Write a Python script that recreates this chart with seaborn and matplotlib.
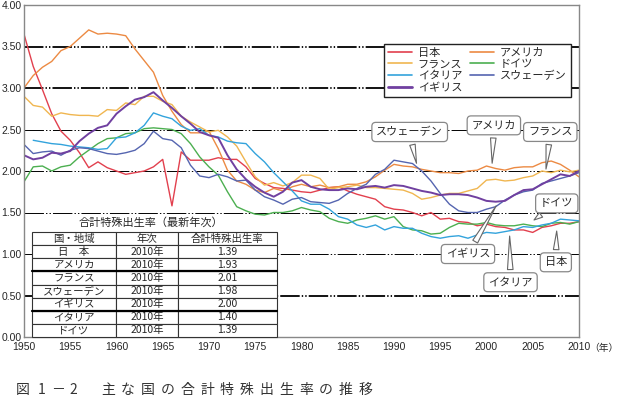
import numpy as np
import pandas as pd
import matplotlib.pyplot as plt
import seaborn as sns
from matplotlib.lines import Line2D

years = list(range(1950, 2011))

japan = [3.65, 3.26, 2.98, 2.69, 2.48, 2.37,
         2.22, 2.04, 2.11, 2.04, 2.00,
         1.96, 1.98, 2.00, 2.05, 2.14,
         1.58, 2.23, 2.13, 2.13, 2.13,
         2.16, 2.14, 2.14, 2.05, 1.91,
         1.85, 1.80, 1.79, 1.77, 1.75,
         1.74, 1.77, 1.80, 1.81, 1.76,
         1.72, 1.69, 1.66, 1.57, 1.54,
         1.53, 1.50, 1.46, 1.50, 1.42,
         1.43, 1.39, 1.38, 1.34, 1.36,
         1.33, 1.32, 1.29, 1.29, 1.26,
         1.32, 1.34, 1.37, 1.37, 1.39]
usa = [3.00, 3.15, 3.25, 3.32, 3.45, 3.50,
       3.60, 3.70, 3.65, 3.66, 3.65,
       3.63, 3.47, 3.33, 3.19, 2.91,
       2.72, 2.56, 2.46, 2.46, 2.48,
       2.27, 2.01, 1.88, 1.84, 1.77,
       1.74, 1.79, 1.76, 1.81, 1.84,
       1.81, 1.83, 1.80, 1.81, 1.84,
       1.84, 1.87, 1.93, 2.01, 2.08,
       2.06, 2.05, 2.02, 2.00, 1.98,
       1.98, 1.97, 2.00, 2.01, 2.06,
       2.03, 2.01, 2.04, 2.05, 2.05,
       2.10, 2.12, 2.08, 2.01, 1.93]
france = [2.90, 2.79, 2.77, 2.66, 2.70, 2.68,
          2.67, 2.67, 2.66, 2.74, 2.73,
          2.82, 2.80, 2.90, 2.90, 2.84,
          2.80, 2.66, 2.59, 2.53, 2.47,
          2.49, 2.41, 2.30, 2.11, 1.93,
          1.83, 1.86, 1.82, 1.86, 1.95,
          1.95, 1.91, 1.78, 1.80, 1.81,
          1.83, 1.80, 1.80, 1.79, 1.78,
          1.77, 1.73, 1.66, 1.68, 1.71,
          1.73, 1.73, 1.76, 1.79, 1.89,
          1.90, 1.88, 1.89, 1.92, 1.94,
          2.00, 1.98, 2.01, 1.99, 2.01]
germany = [1.87, 2.05, 2.06, 2.00, 2.05, 2.07,
           2.17, 2.25, 2.33, 2.39, 2.40,
           2.45, 2.46, 2.51, 2.52, 2.51,
           2.50, 2.45, 2.33, 2.17, 2.05,
           1.95, 1.75, 1.57, 1.52, 1.48,
           1.47, 1.50, 1.50, 1.52, 1.56,
           1.53, 1.51, 1.43, 1.39, 1.37,
           1.41, 1.43, 1.46, 1.42, 1.45,
           1.33, 1.29, 1.28, 1.24, 1.25,
           1.32, 1.37, 1.36, 1.36, 1.38,
           1.35, 1.34, 1.34, 1.36, 1.34,
           1.33, 1.37, 1.38, 1.36, 1.39]
italy = [np.nan, 2.37, 2.35, 2.33, 2.32, 2.30,
         2.29, 2.28, 2.26, 2.27, 2.40,
         2.41, 2.46, 2.55, 2.70, 2.66,
         2.63, 2.54, 2.49, 2.51, 2.43,
         2.41, 2.36, 2.34, 2.33, 2.21,
         2.11, 1.98, 1.87, 1.76, 1.64,
         1.60, 1.60, 1.54, 1.45, 1.42,
         1.35, 1.32, 1.35, 1.29, 1.33,
         1.31, 1.31, 1.25, 1.21, 1.19,
         1.21, 1.22, 1.19, 1.23, 1.26,
         1.25, 1.27, 1.29, 1.33, 1.32,
         1.35, 1.37, 1.42, 1.41, 1.40]
sweden = [2.32, 2.21, 2.23, 2.24, 2.19, 2.25,
          2.28, 2.27, 2.24, 2.21, 2.20,
          2.22, 2.25, 2.33, 2.48, 2.39,
          2.37, 2.28, 2.07, 1.94, 1.92,
          1.96, 1.93, 1.88, 1.89, 1.77,
          1.69, 1.65, 1.60, 1.66, 1.68,
          1.63, 1.62, 1.61, 1.65, 1.73,
          1.79, 1.84, 1.96, 2.02, 2.13,
          2.11, 2.09, 2.00, 1.88, 1.73,
          1.60, 1.52, 1.50, 1.50, 1.54,
          1.57, 1.65, 1.71, 1.75, 1.77,
          1.85, 1.88, 1.91, 1.94, 1.98]
uk = [2.19, 2.14, 2.16, 2.22, 2.21, 2.24,
      2.36, 2.45, 2.52, 2.55, 2.69,
      2.78, 2.86, 2.89, 2.95, 2.85,
      2.76, 2.66, 2.57, 2.47, 2.43,
      2.40, 2.19, 2.02, 1.90, 1.81,
      1.74, 1.69, 1.75, 1.86, 1.89,
      1.81, 1.78, 1.77, 1.77, 1.79,
      1.78, 1.81, 1.82, 1.80, 1.83,
      1.82, 1.79, 1.76, 1.74, 1.71,
      1.72, 1.72, 1.71, 1.68, 1.64,
      1.63, 1.64, 1.71, 1.77, 1.78,
      1.84, 1.90, 1.96, 1.94, 2.00]

countries = ["日本", "アメリカ", "フランス", "ドイツ", "イタリア", "スウェーデン", "イギリス"]
colors = ["#e2404e", "#ec8a43", "#f0b650", "#4caf50", "#33a3dc", "#5565b0", "#7040a0"]

# table (latest year)
table_countries = ["日　本", "アメリカ", "フランス", "スウェーデン", "イギリス", "イタリア", "ドイツ"]
table_years = ["2010年"] * 7
table_rates = [1.39, 1.93, 2.01, 1.98, 2.00, 1.40, 1.39]

# callouts
callout_labels = ["スウェーデン", "アメリカ", "フランス", "ドイツ", "イギリス", "イタリア", "日本"]
callout_xy = [(1992.5, 2.06), (2000.6, 2.06), (2006.4, 1.99), (2004.9, 1.39),
              (2001.2, 1.61), (2002.5, 1.25), (2007.6, 1.31)]
callout_text = [(1991.7, 2.47), (2000.8, 2.55), (2006.9, 2.47), (2007.6, 1.61),
                (1998.0, 1.00), (2002.6, 0.66), (2007.5, 0.90)]

df = pd.DataFrame({
    "year": years * 7,
    "rate": japan + usa + france + germany + italy + sweden + uk,
    "country": np.repeat(countries, len(years)),
}).dropna()

sns.set_style("white")
plt.rcParams["font.family"] = ["Noto Sans CJK JP", "DejaVu Sans"]
plt.rcParams["lines.scale_dashes"] = False

fig = plt.figure(figsize=(6.21, 4.0), dpi=100)
ax = fig.add_axes([0.0386, 0.1575, 0.8937, 0.83])

sns.lineplot(data=df, x="year", y="rate", hue="country", hue_order=countries,
             palette=colors, linewidth=1.0, legend=False, ax=ax, zorder=2)
ax.get_lines()[6].set_linewidth(1.4)

for v in np.arange(0.5, 3.51, 0.5):
    thick = v in (0.5, 3.0, 3.5)
    ax.axhline(v, color="black", lw=1.3 if thick else 0.7,
               dashes=(14, 1.5, 1, 1.5, 1, 1.5), zorder=1)

ax.set_xlim(1950, 2010)
ax.set_ylim(0, 4)
ax.set_xticks(range(1950, 2011, 5))
ax.set_yticks(np.arange(0, 4.01, 0.5))
ax.set_yticklabels([f"{v:.2f}" for v in np.arange(0, 4.01, 0.5)])
for lab in ax.get_xticklabels() + ax.get_yticklabels():
    lab.set_family(["Liberation Sans", "DejaVu Sans"])
ax.tick_params(axis="x", direction="in", length=3, labelsize=7.5, pad=3.5, color="#555")
ax.tick_params(axis="y", length=0, labelsize=7.5, pad=1.5)
ax.set_xlabel("")
ax.set_ylabel("")
for s in ax.spines.values():
    s.set_color("#888")
    s.set_linewidth(1.0)

fig.text(604 / 621, 1 - 348 / 400, "（年）", ha="center", va="center", fontsize=7)

# legend
order = [0, 2, 4, 6, 1, 3, 5]
handles = [Line2D([], [], color=colors[i], lw=2.0 if i == 6 else 1.2) for i in order]
leg = ax.legend(handles, [countries[i] for i in order], ncol=2, loc="upper right",
                bbox_to_anchor=(0.995, 0.90), fontsize=8, frameon=True, fancybox=False,
                edgecolor="#222", framealpha=1, borderpad=0.35, labelspacing=0.15,
                handlelength=2.2, columnspacing=0.7, handletextpad=0.5)
leg.get_frame().set_linewidth(1.0)
leg.set_zorder(6)

# callouts
for lab, xy, xt in zip(callout_labels, callout_xy, callout_text):
    ax.annotate(lab, xy=xy, xytext=xt, ha="center", va="center", fontsize=8,
                bbox=dict(boxstyle="round,pad=0.4,rounding_size=0.35", fc="white",
                          ec="#888", lw=0.9),
                arrowprops=dict(arrowstyle="wedge,tail_width=0.5,shrink_factor=0.5",
                                fc="white", ec="#666", lw=0.8),
                zorder=5)

# table
rows = [[c, y, f"{r:.2f}"] for c, y, r in zip(table_countries, table_years, table_rates)]
tbl = ax.table(cellText=rows, colLabels=["国・地域", "年次", "合計特殊出生率"],
               colWidths=[0.343, 0.253, 0.404], cellLoc="center",
               bbox=[0.0144, 0.0, 0.4414, 0.316])
tbl.auto_set_font_size(False)
tbl.set_fontsize(7.5)
tbl.set_zorder(4)
for cell in tbl.get_celld().values():
    cell.set_linewidth(0.8)
    cell.set_edgecolor("#333")
    cell.set_facecolor("white")
row_h = 0.316 / 8
for k in (3, 6):
    ax.plot([0.0144, 0.4558], [0.316 - k * row_h] * 2, transform=ax.transAxes,
            color="black", lw=1.6, zorder=5, clip_on=False)
ax.text(0.229, 0.346, "合計特殊出生率（最新年次）", transform=ax.transAxes,
        ha="center", va="center", fontsize=8, zorder=5)

# caption
cap_pre = ["図", "1", "－", "2"]
cap_pre_x = [23, 42, 58, 73]
for ch, px in zip(cap_pre, cap_pre_x):
    fig.text(px / 621, 0.025, ch, ha="center", va="center", fontsize=10, color="#333")
for i, ch in enumerate("主な国の合計特殊出生率の推移"):
    fig.text((108 + i * 19.8) / 621, 0.025, ch, ha="center", va="center",
             fontsize=10, color="#333")

fig.savefig("out.png", dpi=100)
